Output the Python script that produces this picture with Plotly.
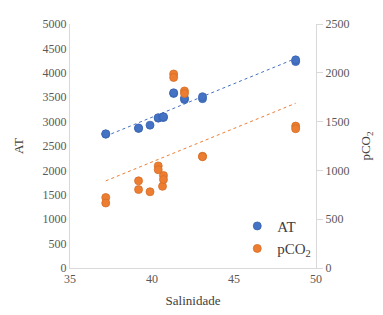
import numpy as np
import plotly.graph_objects as go

salinidade = [37.18, 37.18, 39.18, 39.18, 39.88, 40.38, 40.38, 40.64, 40.70, 40.70,
              41.32, 41.32, 41.98, 41.98, 43.08, 43.08, 48.76, 48.76]
at_values = [2742, 2750, 2860, 2870, 2927, 3071, 3080, 3090, 3085, 3100,
             3577, 3590, 3451, 3480, 3470, 3510, 4230, 4265]
pco2_values = [722, 666, 893, 804, 781, 1046, 1007, 837, 948, 906,
               1988, 1952, 1814, 1788, 1145, 1140, 1454, 1427]

x = np.array(salinidade)
xfit = np.array([x.min(), x.max()])
at_fit = np.polyval(np.polyfit(x, at_values, 1), xfit)
pco2_fit = np.polyval(np.polyfit(x, pco2_values, 1), xfit)

BLUE = "#4472C4"
ORANGE = "#ED7D31"
FONT = "'Times New Roman', 'Liberation Serif', 'DejaVu Serif', serif"

fig = go.Figure()
fig.add_trace(go.Scatter(x=xfit, y=at_fit, mode="lines", showlegend=False,
                         line=dict(color=BLUE, width=1, dash="dot"), hoverinfo="skip"))
fig.add_trace(go.Scatter(x=xfit, y=pco2_fit, mode="lines", showlegend=False, yaxis="y2",
                         line=dict(color=ORANGE, width=1, dash="dot"), hoverinfo="skip"))
fig.add_trace(go.Scatter(x=salinidade, y=at_values, mode="markers", name="AT",
                         marker=dict(color=BLUE, size=8, line=dict(color="#3a64b0", width=0.8))))
fig.add_trace(go.Scatter(x=salinidade, y=pco2_values, mode="markers", name="pCO<sub>2</sub>",
                         yaxis="y2",
                         marker=dict(color=ORANGE, size=8, line=dict(color="#d46d27", width=0.8))))

fig.update_layout(
    width=375, height=307,
    margin=dict(l=58, r=67, t=9, b=44),
    paper_bgcolor="white", plot_bgcolor="white",
    font=dict(family=FONT, size=12, color="#595959"),
    xaxis=dict(range=[35, 50], dtick=5, showgrid=False, zeroline=False,
               showline=True, linecolor="#d9d9d9", linewidth=1, ticks="",
               tickfont=dict(family=FONT, size=12, color="#595959"),
               title=dict(text="Salinidade", font=dict(family=FONT, size=13, color="#404040"), standoff=10)),
    yaxis=dict(range=[0, 5000], dtick=500, showgrid=False, zeroline=False,
               showline=True, linecolor="#d9d9d9", linewidth=1, ticks="",
               tickfont=dict(family=FONT, size=12, color="#595959"),
               title=dict(text="AT", font=dict(family=FONT, size=13, color="#404040"), standoff=16)),
    yaxis2=dict(range=[0, 2500], dtick=500, overlaying="y", side="right",
                showgrid=False, zeroline=False, showline=True, linecolor="#d9d9d9",
                linewidth=1, ticks="outside", ticklen=6, tickcolor="#d9d9d9",
                tickfont=dict(family=FONT, size=12, color="#595959"),
                title=dict(text="pCO<sub>2</sub>", font=dict(family=FONT, size=13, color="#404040"), standoff=12)),
    legend=dict(x=0.68, y=0.239, xanchor="left", yanchor="top",
                font=dict(family=FONT, size=15, color="#404040"), bgcolor="rgba(0,0,0,0)",
                tracegroupgap=0),
)

fig.write_html("out.html")
